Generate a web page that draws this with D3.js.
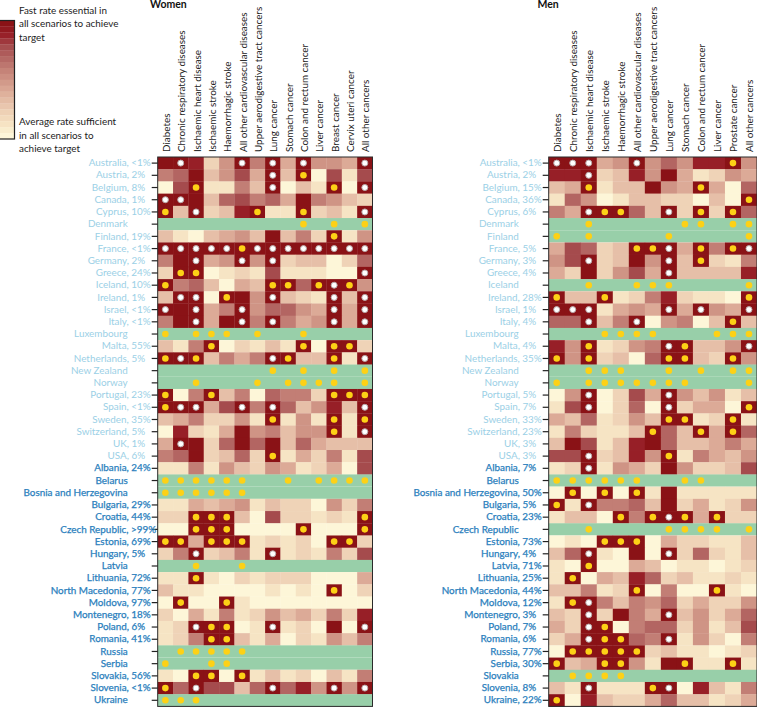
<!DOCTYPE html>
<html lang="en">
<head>
<meta charset="utf-8">
<title>Fast rate heatmap</title>
<script src="https://cdnjs.cloudflare.com/ajax/libs/d3/7.8.5/d3.min.js"></script>
<style>
	html, body { margin: 0; padding: 0; background: #fff; }
	svg { display: block; font-family: Lato, sans-serif; }
	.domain { display: none; }
</style>
</head>
<body>
<svg id="chart" width="757" height="707"></svg>
<script>
var countries = ["Australia","Austria","Belgium","Canada","Cyprus","Denmark","Finland","France","Germany","Greece","Iceland","Ireland","Israel","Italy","Luxembourg","Malta","Netherlands","New Zealand","Norway","Portugal","Spain","Sweden","Switzerland","UK","USA","Albania","Belarus","Bosnia and Herzegovina","Bulgaria","Croatia","Czech Republic","Estonia","Hungary","Latvia","Lithuania","North Macedonia","Moldova","Montenegro","Poland","Romania","Russia","Serbia","Slovakia","Slovenia","Ukraine"];
var firstEastern = "Albania";

var causesWomen = ["Diabetes","Chronic respiratory diseases","Ischaemic heart disease","Ischaemic stroke","Haemorrhagic stroke","All other cardiovascular diseases","Upper aerodigestive tract cancers","Lung cancer","Stomach cancer","Colon and rectum cancer","Liver cancer","Breast cancer","Cervix uteri cancer","All other cancers"];
var causesMen = ["Diabetes","Chronic respiratory diseases","Ischaemic heart disease","Ischaemic stroke","Haemorrhagic stroke","All other cardiovascular diseases","Upper aerodigestive tract cancers","Lung cancer","Stomach cancer","Colon and rectum cancer","Liver cancer","Prostate cancer","All other cancers"];

var pctWomen = ["<1","2","8","1","10",null,"19","<1","2","24","10","1","<1","<1",null,"55","5",null,null,"23","<1","35","5","1","6","24",null,null,"29","44",">99","69","5",null,"72","77","97","18","6","41",null,null,"56","<1",null];
var pctMen = ["<1","2","15","36","6",null,null,"5","3","4",null,"28","1","4",null,"4","35",null,null,"5","7","33","23","3","3","7",null,"50","5","23",null,"73","4","71","25","44","12","3","7","6","77","30",null,"8","22"];

// 0 = average rate sufficient, 10 = fast rate essential, null = no data row
var valuesWomen = [
	[10,10,9,2,5,10,6,10,4,10,5,5,4,10],
	[6,7,10,3,5,8,4,10,3,10,0,8,1,8],
	[0,8,10,1,1,6,3,10,0,3,1,10,0,10],
	[10,10,10,3,7,8,6,7,4,10,6,5,3,2],
	[10,3,10,2,3,9,10,1,1,10,2,3,1,10],
	null,
	[3,1,0,3,4,5,3,10,3,6,2,10,1,5],
	[10,10,10,10,10,10,10,10,10,10,10,10,10,10],
	[6,10,10,4,5,10,5,10,2,3,3,0,2,7],
	[2,10,10,0,1,2,1,8,1,1,1,0,0,10],
	[10,6,7,3,0,4,3,10,10,7,10,10,10,5],
	[3,10,10,0,10,10,5,10,3,2,1,10,3,10],
	[10,10,10,4,6,10,5,7,7,5,4,10,4,10],
	[6,10,10,4,10,10,6,10,6,4,5,10,4,10],
	null,
	[3,1,6,10,0,2,1,3,1,10,0,10,10,2],
	[10,10,10,3,6,4,6,10,10,3,3,10,1,10],
	null,
	null,
	[10,0,6,10,3,6,0,7,6,6,2,10,10,10],
	[10,10,10,4,8,10,6,10,7,3,5,9,3,10],
	[3,4,6,2,2,5,1,10,1,5,1,10,1,10],
	[0,9,2,1,4,10,5,6,3,5,5,10,1,10],
	[4,10,10,2,7,10,7,10,3,7,4,3,3,3],
	[6,7,10,2,3,7,2,10,1,4,2,6,1,8],
	[1,1,6,1,5,3,2,5,4,1,2,4,0,8],
	null,
	null,
	[1,1,4,3,4,5,1,3,2,2,0,5,2,6],
	[2,2,10,10,10,3,0,8,2,2,1,2,1,10],
	[0,0,10,10,10,0,0,0,0,10,0,0,0,10],
	[10,10,4,10,10,10,1,2,1,2,0,10,10,2],
	[2,6,10,2,3,6,1,10,1,2,1,6,2,8],
	null,
	[1,1,10,1,0,2,1,2,2,2,0,0,0,4],
	[3,1,1,0,0,0,0,1,0,1,0,10,0,2],
	[0,10,0,0,10,1,0,0,0,0,0,0,0,0],
	[2,0,4,1,6,1,2,5,3,4,2,6,2,9],
	[1,2,10,10,10,0,1,10,1,2,0,10,0,10],
	[1,2,6,10,10,3,1,4,0,2,1,5,3,6],
	null,
	null,
	[1,0,10,10,0,10,1,3,1,2,0,3,1,6],
	[10,7,10,8,8,3,7,10,7,9,5,10,5,10],
	null
];

// w = white dot, y = yellow dot, . = none
var markersWomen = [
	".w...w.w.w...w",
	".......w.y....",
	"..y....w...y.w",
	"ww............",
	"y.w...y..y...w",
	".........y.y.y",
	"...........y..",
	"wwwwwywwwwwwww",
	"..w..w.w......",
	".yy..........w",
	"y......yy.ywy.",
	".ww.y..w...w.w",
	"w.w..w.....w.w",
	"..w..w.w...w.w",
	"y.yyy.y..y....",
	"...y.....y.yy.",
	"ywy....wy..y.w",
	".......y.y.y.y",
	"..y...y.yyyy.y",
	"y..y.......yyy",
	"yww..w.w.....w",
	".......y...y.y",
	"...........y.w",
	".w............",
	".......y......",
	"..............",
	"yyyyyy..y.yyyy",
	"yyyyyy........",
	"..............",
	"..yyy........y",
	"..yyy....y...y",
	"yy.yyy.....yy.",
	"..w....w......",
	"..y..y........",
	"..y...........",
	"...........y..",
	".y..y.........",
	"..............",
	"..wyy..w.....w",
	"...yy.........",
	".yyyyy........",
	"y..yy.........",
	"..yy.y........",
	"y.w....w...w.w",
	"yyy..........."
];

var valuesMen = [
	[10,10,10,4,5,10,5,7,5,9,9,10,5],
	[9,9,10,2,3,9,5,10,4,1,2,5,4],
	[3,4,10,1,3,3,10,5,4,10,4,0,7],
	[1,7,5,0,1,3,3,2,2,0,3,0,10],
	[6,4,10,10,10,7,3,10,2,10,2,10,7],
	null,
	null,
	[4,8,7,2,3,10,10,10,4,10,6,10,10],
	[5,8,10,2,3,10,5,10,3,10,2,1,6],
	[4,2,10,2,5,8,4,10,3,3,3,3,9],
	null,
	[10,3,3,10,1,2,6,9,2,1,1,0,10],
	[10,10,10,1,4,5,4,10,4,10,5,4,10],
	[7,7,10,3,6,10,0,5,6,0,3,10,3],
	null,
	[9,5,10,1,2,5,6,10,10,3,3,5,10],
	[10,5,10,2,3,0,7,10,10,3,2,10,5],
	null,
	null,
	[0,5,10,0,2,8,4,10,5,3,5,1,3],
	[1,8,10,0,2,7,0,10,2,4,4,0,10],
	[4,3,7,1,2,5,3,10,10,1,2,10,1],
	[1,6,2,1,1,3,10,7,3,10,4,10,7],
	[3,10,8,1,3,9,10,7,3,3,4,6,4],
	[8,8,10,2,3,9,5,10,1,6,4,3,5],
	[1,2,10,1,5,4,2,10,5,2,2,3,8],
	null,
	[0,10,0,10,0,10,1,10,1,1,1,1,1],
	[10,1,10,6,6,7,3,10,2,4,1,2,5],
	[1,3,3,0,10,6,10,10,10,4,10,2,2],
	null,
	[0,1,0,10,10,10,0,4,2,2,1,1,3],
	[3,7,10,1,0,10,0,10,2,7,2,1,3],
	[1,0,10,0,0,4,3,0,1,1,0,1,2],
	[1,10,0,4,3,9,7,2,3,1,1,2,1],
	[3,3,6,1,2,10,0,6,0,0,10,1,0],
	[1,10,10,6,3,6,5,7,2,4,2,2,5],
	[3,2,10,2,10,6,4,10,3,5,2,4,7],
	[4,2,10,10,0,6,7,7,2,5,1,3,8],
	[2,4,10,10,10,7,6,10,1,5,2,0,6],
	[0,10,10,10,10,10,2,3,1,1,0,1,2],
	[10,3,4,10,10,5,1,10,10,1,1,10,1],
	null,
	[3,1,10,1,1,1,10,10,0,9,3,1,6],
	[10,0,9,3,2,2,4,7,3,3,1,2,4]
];

var markersMen = [
	"www..w.....y.",
	"..w..........",
	"..y......y...",
	"............y",
	"..wyy..w.y.y.",
	"..y.....yy.yy",
	"y.y....y....y",
	".....yyw.y.yw",
	"..w....w.y...",
	".......w.....",
	"..y..yyy....y",
	"y..y........y",
	"www....w.w..w",
	"..w..w.....y.",
	"...yyyy...yyy",
	"..y....wy...w",
	"y.y....yy..y.",
	"..yyy..y.y.yy",
	"y.yyyyyyy...y",
	"..w....w.....",
	"..w....w....y",
	".......yy..y.",
	"......y..y.y.",
	".............",
	"..w....y.....",
	"..w..........",
	"yyyyyy..yy...",
	".y.y.y.......",
	"y.w..........",
	"....y.ywy.y..",
	"..y....yyyy.y",
	"...yyy.......",
	"..w....w.....",
	"..y..........",
	".y...........",
	".....y....y..",
	".yw..........",
	"..w....w.....",
	"..wy.........",
	"..wyy..w.....",
	".yyyyy.......",
	"y..yy...y..y.",
	".yyyy........",
	"..w...yw.....",
	"y............"
];

var legendTop = ["Fast rate essential in","all scenarios to achieve","target"];
var legendBottom = ["Average rate sufficient","in all scenarios to","achieve target"];

var colorStops = ["#fdf6d8","#f6e4c4","#efd3b7","#e6bfa8","#dcaa97","#cf9485","#c27e75","#b36562","#a54b4d","#971f27","#8a1216"];
var noData = "#98cfa9";
var lightBlue = "#9bd0e6";
var darkBlue = "#2a80bd";

var color = d3.scaleLinear().domain(d3.range(colorStops.length)).range(colorStops);

var svg = d3.select("#chart");
var y = d3.scaleBand().domain(countries).range([157, 706.4]);
var eastIdx = countries.indexOf(firstEastern);

function panel(title, titleX, causes, pct, values, markers, x0, x1) {
	var g = svg.append("g");
	var x = d3.scaleBand().domain(causes).range([x0, x1]);

	// cells
	countries.forEach(function(country, r) {
		var row = values[r];
		if (row === null) {
			g.append("rect")
				.attr("x", x0).attr("y", y(country))
				.attr("width", x1 - x0).attr("height", y.bandwidth())
				.attr("fill", noData);
			return;
		}
		g.append("g").selectAll("rect")
			.data(row)
			.enter().append("rect")
			.attr("x", function(d, i) { return x(causes[i]); })
			.attr("y", y(country))
			.attr("width", x.bandwidth() + 0.3)
			.attr("height", y.bandwidth() + 0.3)
			.attr("fill", function(d) { return color(d); });
	});

	// dots
	countries.forEach(function(country, r) {
		var dots = markers[r].split("").map(function(m, i) { return {m: m, i: i}; })
			.filter(function(d) { return d.m !== "."; });
		var cy = y(country) + y.bandwidth() / 2;
		g.append("g").selectAll("circle")
			.data(dots)
			.enter().append("circle")
			.attr("cx", function(d) { return x(causes[d.i]) + x.bandwidth() / 2; })
			.attr("cy", cy)
			.attr("r", function(d) { return d.m === "w" ? 3 : 3.3; })
			.attr("fill", function(d) { return d.m === "w" ? "#fff" : "#fdd116"; })
			.attr("stroke", function(d) { return d.m === "w" ? "#b8a8a8" : "none"; })
			.attr("stroke-width", 1);
	});

	g.append("rect")
		.attr("x", x0).attr("y", 157)
		.attr("width", x1 - x0).attr("height", 549.4)
		.attr("fill", "none").attr("stroke", "#2a2a2a").attr("stroke-width", 1);

	// column labels
	var top = g.append("g")
		.attr("transform", "translate(0,157)")
		.call(d3.axisTop(x).tickSize(0).tickPadding(0));
	top.selectAll("text")
		.attr("transform", "rotate(-90)")
		.attr("x", 5).attr("y", 1)
		.attr("dy", "0.35em")
		.attr("text-anchor", "start")
		.attr("font-family", "Lato, sans-serif")
		.attr("font-size", 9.9)
		.attr("fill", "#222");

	// country labels
	var labels = {};
	countries.forEach(function(c, r) {
		labels[c] = pct[r] === null ? c : c + ", " + pct[r] + "%";
	});
	var left = g.append("g")
		.attr("transform", "translate(" + x0 + ",0)")
		.call(d3.axisLeft(y).tickSize(6).tickPadding(1).tickFormat(function(c) { return labels[c]; }));
	left.selectAll("line").attr("stroke", "#222").attr("stroke-width", 1.2);
	left.selectAll("text")
		.attr("font-family", "Lato, sans-serif")
		.attr("font-size", 9.9)
		.attr("fill", function(c) { return countries.indexOf(c) < eastIdx ? lightBlue : darkBlue; })
		.attr("stroke", function(c) { return countries.indexOf(c) < eastIdx ? "none" : darkBlue; })
		.attr("stroke-width", 0.25)
		.attr("dx", function(c) {
			var p = pct[countries.indexOf(c)];
			return p === null ? -23 : (p.length - 2) * 5.5;
		});

	svg.append("text")
		.attr("x", titleX).attr("y", 8)
		.attr("font-size", 10.5).attr("font-weight", 700).attr("fill", "#111")
		.text(title);
}

panel("Women", 150, causesWomen, pctWomen, valuesWomen, markersWomen, 157.7, 372.5);
panel("Men", 537.5, causesMen, pctMen, valuesMen, markersMen, 548.7, 757);

// legend
var legendSteps = d3.range(20);
var legendY = d3.scaleBand().domain(legendSteps).range([20.5, 139]);
svg.append("g").selectAll("rect")
	.data(legendSteps)
	.enter().append("rect")
	.attr("x", 0)
	.attr("y", function(d) { return legendY(d); })
	.attr("width", 14.5)
	.attr("height", legendY.bandwidth() + 0.3)
	.attr("fill", function(d) { return color(10 * (19 - d) / 19); });
svg.append("rect")
	.attr("x", -1).attr("y", 20.5)
	.attr("width", 15.5).attr("height", 118.5)
	.attr("fill", "none").attr("stroke", "#222").attr("stroke-width", 1.2);

function legendLines(lines, yStart) {
	svg.append("g").selectAll("text")
		.data(lines)
		.enter().append("text")
		.attr("x", 19)
		.attr("y", function(d, i) { return yStart + i * 13.7; })
		.attr("font-size", 9.9)
		.attr("fill", "#222")
		.text(function(d) { return d; });
}
legendLines(legendTop, 13.5);
legendLines(legendBottom, 125);
</script>
</body>
</html>
